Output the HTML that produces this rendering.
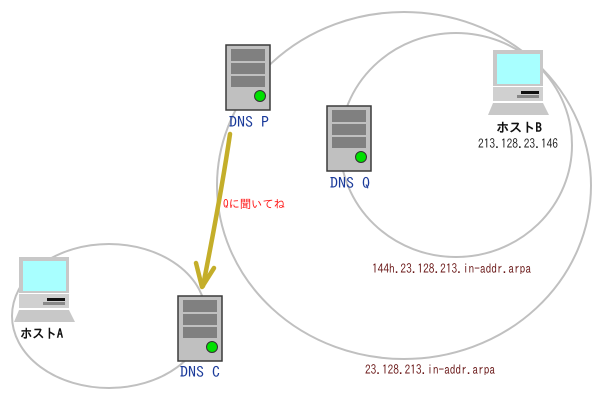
<!DOCTYPE html>
<html><head><meta charset="utf-8"><style>
html,body{margin:0;padding:0;background:#fff;}
svg{display:block;}
text{font-family:"IPAGothic","Liberation Sans","Noto Sans CJK JP",sans-serif;}
</style></head><body>
<svg width="600" height="400" viewBox="0 0 600 400" xmlns="http://www.w3.org/2000/svg">
<rect width="600" height="400" fill="#fff"/>
<!-- ellipses -->
<g fill="none" stroke="#c0c0c0" stroke-width="2">
<ellipse cx="404" cy="185.5" rx="187" ry="173.5"/>
<ellipse cx="456" cy="145" rx="116" ry="112"/>
<ellipse cx="109" cy="316" rx="97" ry="72"/>
</g>

<!-- Host A -->
<g>
<rect x="19" y="257" width="50" height="36" fill="#c8c8c8"/>
<rect x="23" y="261" width="43" height="30" fill="#a8ffff"/>
<rect x="19" y="294" width="50" height="14" fill="#d0d0d0"/>
<rect x="47" y="298" width="18" height="3" fill="#111"/>
<rect x="43" y="302" width="22" height="3" fill="#888"/>
<polygon points="19,310 69,310 75,322 14,322" fill="#c8c8c8"/>
</g>
<!-- Host B -->
<g transform="translate(474,-207)">
<rect x="19" y="257" width="50" height="36" fill="#c8c8c8"/>
<rect x="23" y="261" width="43" height="30" fill="#a8ffff"/>
<rect x="19" y="294" width="50" height="14" fill="#d0d0d0"/>
<rect x="47" y="298" width="18" height="3" fill="#111"/>
<rect x="43" y="302" width="22" height="3" fill="#888"/>
<polygon points="19,310 69,310 75,322 14,322" fill="#c8c8c8"/>
</g>

<!-- Servers -->
<g transform="translate(226,45)">
<rect x="0" y="0" width="44" height="65" fill="#c0c0c0" stroke="#3a3a3a" stroke-width="1.5"/>
<rect x="5" y="4" width="34" height="12" fill="#808080"/>
<rect x="5" y="18" width="34" height="11" fill="#808080"/>
<rect x="5" y="31" width="34" height="11" fill="#808080"/>
<circle cx="34" cy="51" r="5.5" fill="#00e000" stroke="#333" stroke-width="1"/>
</g>
<g transform="translate(327,106)">
<rect x="0" y="0" width="44" height="65" fill="#c0c0c0" stroke="#3a3a3a" stroke-width="1.5"/>
<rect x="5" y="4" width="34" height="12" fill="#808080"/>
<rect x="5" y="18" width="34" height="11" fill="#808080"/>
<rect x="5" y="31" width="34" height="11" fill="#808080"/>
<circle cx="34" cy="51" r="5.5" fill="#00e000" stroke="#333" stroke-width="1"/>
</g>
<g transform="translate(178,296)">
<rect x="0" y="0" width="44" height="65" fill="#c0c0c0" stroke="#3a3a3a" stroke-width="1.5"/>
<rect x="5" y="4" width="34" height="12" fill="#808080"/>
<rect x="5" y="18" width="34" height="11" fill="#808080"/>
<rect x="5" y="31" width="34" height="11" fill="#808080"/>
<circle cx="34" cy="51" r="5.5" fill="#00e000" stroke="#333" stroke-width="1"/>
</g>

<!-- arrow -->
<g fill="none" stroke="#c4ae2a" stroke-width="4.5" stroke-linecap="round" stroke-linejoin="round">
<path d="M230,134 C224,175 216,220 203,286"/>
<path d="M196,263 L202,287 L214,268"/>
</g>

<!-- labels -->
<g fill="#1a3a9a" font-size="15">
<text x="229" y="127" textLength="40" lengthAdjust="spacingAndGlyphs">DNS P</text>
<text x="330" y="188" textLength="40" lengthAdjust="spacingAndGlyphs">DNS Q</text>
<text x="180" y="377" textLength="40" lengthAdjust="spacingAndGlyphs">DNS C</text>
</g>
<text x="20" y="338" font-size="13" font-weight="bold" fill="#111" textLength="43" lengthAdjust="spacingAndGlyphs">ホストA</text>
<text x="496" y="132" font-size="13" font-weight="bold" fill="#111" textLength="46" lengthAdjust="spacingAndGlyphs">ホストB</text>
<text x="478" y="148" font-size="12.5" fill="#222" textLength="80" lengthAdjust="spacingAndGlyphs">213.128.23.146</text>
<text x="223" y="208" font-size="11.5" fill="#ff1a1a" textLength="62" lengthAdjust="spacingAndGlyphs">Qに聞いてね</text>
<g fill="#6b1a1a" font-size="13">
<text x="372" y="273" textLength="159" lengthAdjust="spacingAndGlyphs">144h.23.128.213.in-addr.arpa</text>
<text x="365" y="374" textLength="130" lengthAdjust="spacingAndGlyphs">23.128.213.in-addr.arpa</text>
</g>
</svg>
</body></html>
